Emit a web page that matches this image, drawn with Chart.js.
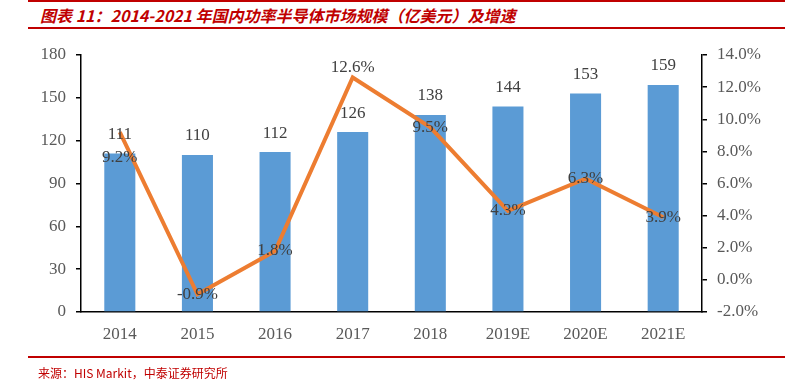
<!DOCTYPE html>
<html><head><meta charset="utf-8">
<script src="https://cdn.jsdelivr.net/npm/chart.js@4/dist/chart.umd.min.js"></script>
<style>
html,body{margin:0;padding:0;background:#fff;width:792px;height:380px;overflow:hidden;}
#wrap{position:relative;width:792px;height:380px;}
canvas{position:absolute;left:0;top:0;}
.rl{position:absolute;left:28px;width:757px;height:2px;background:#C00000;}
#title{position:absolute;left:40px;top:4px;font:italic bold 16px "Noto Sans CJK SC","Liberation Sans",sans-serif;color:#C00000;white-space:nowrap;line-height:22px;}
#src{position:absolute;left:38px;top:364px;font:12px "Noto Sans CJK SC","Liberation Sans",sans-serif;color:#C00000;white-space:nowrap;line-height:18px;}
</style></head>
<body><div id="wrap">
<div class="rl" style="top:0px"></div>
<div id="title">图表 11：2014-2021 年国内功率半导体市场规模（亿美元）及增速</div>
<div class="rl" style="top:27px"></div>
<canvas id="c" width="792" height="380"></canvas>
<div class="rl" style="top:356px"></div>
<div id="src">来源：HIS Markit，中泰证券研究所</div>
</div>
<script>
const categories = ['2014','2015','2016','2017','2018','2019E','2020E','2021E'];
const marketSize = [111,110,112,126,138,144,153,159];
const growthRate = [9.2,-0.9,1.8,12.6,9.5,4.3,6.3,3.9];
const growthLabels = ['9.2%','-0.9%','1.8%','12.6%','9.5%','4.3%','6.3%','3.9%'];
const growthLabelOffsets = [25,0,0,-10,0,0,0,0];
const leftTicks = [0,30,60,90,120,150,180];
const rightTicks = [-2,0,2,4,6,8,10,12,14];

const serif = '"Liberation Serif","Times New Roman",serif';
const labelPlugin = {
  id:'labels',
  afterDatasetsDraw(chart){
    const ctx = chart.ctx;
    ctx.save();
    ctx.font = '17px ' + serif;
    ctx.fillStyle = '#404040';
    ctx.textAlign = 'center';
    ctx.textBaseline = 'middle';
    const barMeta = chart.getDatasetMeta(0);
    barMeta.data.forEach((el,i)=>{
      ctx.fillText(String(marketSize[i]), el.x, el.y - 19);
    });
    const lineMeta = chart.getDatasetMeta(1);
    lineMeta.data.forEach((el,i)=>{
      ctx.fillText(growthLabels[i], el.x, el.y + growthLabelOffsets[i]);
    });
    ctx.restore();
  }
};

new Chart(document.getElementById('c'),{
  data:{
    labels:categories,
    datasets:[
      {type:'bar',data:marketSize,backgroundColor:'#5B9BD5',yAxisID:'y',order:2,
       categoryPercentage:1,barPercentage:0.4},
      {type:'line',data:growthRate,borderColor:'#ED7D31',borderWidth:4,pointRadius:0,
       yAxisID:'y1',order:1,tension:0,fill:false}
    ]
  },
  options:{
    responsive:false,animation:false,
    layout:{padding:{top:55,left:0,right:0,bottom:0}},
    plugins:{legend:{display:false},tooltip:{enabled:false},title:{display:false}},
    scales:{
      x:{
        grid:{display:false,drawTicks:false},
        border:{display:true,color:'#000',width:1.5},
        ticks:{font:{family:serif,size:17},color:'#595959',padding:12},
        afterFit(s){s.height=68;}
      },
      y:{
        position:'left',min:0,max:180,
        afterBuildTicks(s){s.ticks=leftTicks.map(v=>({value:v}));},
        grid:{drawOnChartArea:false,drawTicks:true,tickLength:5,color:'#000',lineWidth:1.5},
        border:{display:true,color:'#000',width:1.5},
        ticks:{font:{family:serif,size:17},color:'#595959',padding:10},
        afterFit(s){s.width=81;}
      },
      y1:{
        position:'right',min:-2,max:14,
        afterBuildTicks(s){s.ticks=rightTicks.map(v=>({value:v}));},
        grid:{drawOnChartArea:false,drawTicks:true,tickLength:5,color:'#000',lineWidth:1.5},
        border:{display:true,color:'#000',width:1.5},
        ticks:{font:{family:serif,size:17},color:'#595959',padding:10,
          callback:v=>v.toFixed(1)+'%'},
        afterFit(s){s.width=90;}
      }
    }
  },
  plugins:[labelPlugin]
});
</script>
</body></html>
